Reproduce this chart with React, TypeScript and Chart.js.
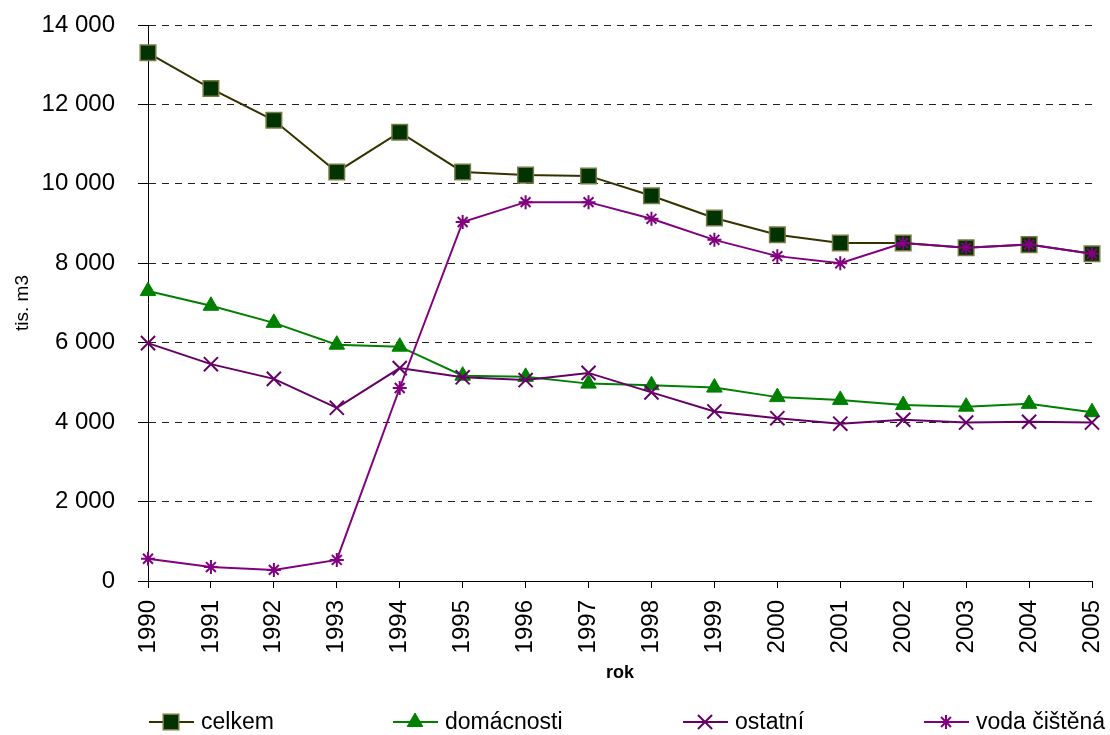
import React, { useEffect, useRef } from 'react';
import { Chart, registerables } from 'chart.js';
import { drawPoint } from 'chart.js/helpers';

Chart.register(...registerables);

const years = ['1990', '1991', '1992', '1993', '1994', '1995', '1996', '1997', '1998', '1999', '2000', '2001', '2002', '2003', '2004', '2005'];
const celkem = [13300, 12400, 11600, 10300, 11300, 10300, 10220, 10200, 9700, 9140, 8720, 8510, 8510, 8390, 8470, 8240];
const domacnosti = [7300, 6930, 6500, 5950, 5900, 5170, 5140, 4970, 4930, 4870, 4630, 4560, 4430, 4390, 4460, 4250];
const ostatni = [5990, 5460, 5090, 4360, 5360, 5130, 5060, 5240, 4750, 4270, 4100, 3960, 4060, 3990, 4010, 3990];
const voda = [560, 350, 280, 530, 4860, 9040, 9540, 9540, 9120, 8590, 8180, 8000, 8510, 8390, 8470, 8240];
const seriesNames = ['celkem', 'domácnosti', 'ostatní', 'voda čištěná'];
const xTitle = 'rok';
const yTitle = 'tis. m3';

const FONT = "'Liberation Sans', Arial, sans-serif";

const fmt = (v: number) => {
  const s = Math.round(v).toString();
  return s.replace(/\B(?=(\d{3})+(?!\d))/g, ' ');
};

const legendPlugin = {
  id: 'bottomLegend',
  afterDraw(chart: any) {
    const ctx = chart.ctx;
    const y = 722;
    const xs = [149, 393, 683, 924];
    [0, 1, 2, 3].forEach((i) => {
      const ds = chart.data.datasets[i];
      const x = xs[i];
      ctx.save();
      ctx.lineWidth = 2;
      ctx.strokeStyle = ds.borderColor;
      ctx.beginPath();
      ctx.moveTo(x, y);
      ctx.lineTo(x + 45, y);
      ctx.stroke();
      ctx.fillStyle = ds.pointBackgroundColor;
      ctx.strokeStyle = ds.pointBorderColor;
      ctx.lineWidth = ds.pointBorderWidth;
      drawPoint(ctx, { pointStyle: ds.pointStyle, radius: ds.pointRadius, rotation: 0, borderWidth: ds.pointBorderWidth }, x + 22, y);
      ctx.fillStyle = '#000';
      ctx.font = `23px ${FONT}`;
      ctx.textAlign = 'left';
      ctx.textBaseline = 'middle';
      ctx.fillText(ds.label, x + 52, y + 1);
      ctx.restore();
    });
  },
};

export default function App() {
  const ref = useRef<HTMLCanvasElement | null>(null);

  useEffect(() => {
    if (!ref.current) return;
    const chart = new Chart(ref.current, {
      type: 'line',
      data: {
        labels: years,
        datasets: [
          {
            label: seriesNames[0],
            data: celkem,
            borderColor: '#333300',
            borderWidth: 2,
            pointStyle: 'rect',
            pointRadius: 11,
            pointBackgroundColor: '#003300',
            pointBorderColor: '#7a7a45',
            pointBorderWidth: 1.5,
            order: 4,
          },
          {
            label: seriesNames[1],
            data: domacnosti,
            borderColor: '#008000',
            borderWidth: 2,
            pointStyle: 'triangle',
            pointRadius: 9,
            pointBackgroundColor: '#008000',
            pointBorderColor: '#008000',
            pointBorderWidth: 1,
            order: 3,
          },
          {
            label: seriesNames[2],
            data: ostatni,
            borderColor: '#660066',
            borderWidth: 2,
            pointStyle: 'crossRot',
            pointRadius: 10,
            pointBackgroundColor: '#660066',
            pointBorderColor: '#660066',
            pointBorderWidth: 2,
            order: 2,
          },
          {
            label: seriesNames[3],
            data: voda,
            borderColor: '#800080',
            borderWidth: 2,
            pointStyle: 'star',
            pointRadius: 7,
            pointBackgroundColor: '#800080',
            pointBorderColor: '#800080',
            pointBorderWidth: 2,
            order: 1,
          },
        ],
      },
      options: {
        responsive: false,
        animation: false,
        devicePixelRatio: 1,
        layout: { padding: { top: 25, right: 18, bottom: 50, left: 0 } },
        plugins: {
          legend: { display: false },
          tooltip: { enabled: false },
        },
        elements: { line: { tension: 0 } },
        scales: {
          x: {
            type: 'category',
            offset: false,
            grid: {
              drawOnChartArea: false,
              drawTicks: true,
              tickLength: 7,
              color: '#000',
              lineWidth: 1,
            },
            border: { display: true, color: '#000', width: 1 },
            ticks: {
              color: '#000',
              font: { family: FONT, size: 24 },
              maxRotation: 90,
              minRotation: 90,
              padding: 12,
              autoSkip: false,
            },
            title: {
              display: true,
              text: xTitle,
              color: '#000',
              font: { family: FONT, size: 18, weight: 'bold' },
              padding: { top: 0, bottom: 1 },
            },
            afterFit: (scale: any) => {
              scale.height = 104;
              scale.paddingLeft = 0;
              scale.paddingRight = 0;
              scale.paddingTop = 0;
              scale.paddingBottom = 0;
            },
          },
          y: {
            min: 0,
            max: 14000,
            grid: {
              color: '#222',
              lineWidth: 1,
              tickLength: 10,
              tickColor: '#000',
              tickBorderDash: [],
            },
            border: { display: true, color: '#000', width: 1, dash: [7, 6] },
            ticks: {
              stepSize: 2000,
              color: '#000',
              font: { family: FONT, size: 24 },
              padding: 23,
              callback: (v: any) => fmt(Number(v)),
            },
            title: {
              display: true,
              text: yTitle,
              color: '#000',
              font: { family: FONT, size: 19 },
              padding: { top: 11, bottom: 0 },
            },
            afterFit: (scale: any) => {
              scale.width = 148;
              scale.paddingLeft = 0;
              scale.paddingRight = 0;
              scale.paddingTop = 0;
              scale.paddingBottom = 0;
            },
          },
        },
      },
      plugins: [legendPlugin],
    });
    return () => chart.destroy();
  }, []);

  return (
    <div style={{ position: 'absolute', left: 0, top: 0, width: 1110, height: 735, background: '#fff' }}>
      <canvas ref={ref} width={1110} height={735} style={{ width: 1110, height: 735 }} />
    </div>
  );
}
